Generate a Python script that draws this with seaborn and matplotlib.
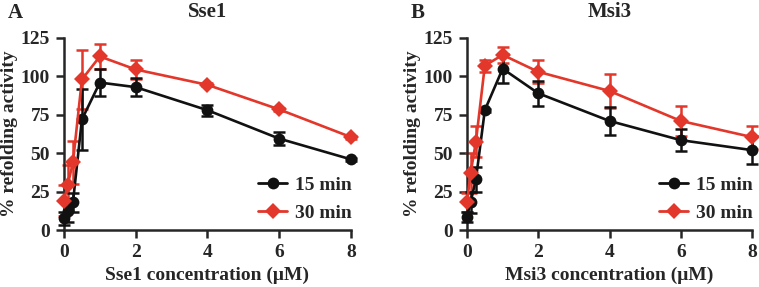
import matplotlib
matplotlib.use("Agg")
import matplotlib.pyplot as plt
import numpy as np
import pandas as pd
import seaborn as sns

conc = [0, 0.1, 0.25, 0.5, 1, 2, 4, 6, 8]

sse1_15 = [7.5, 12.5, 18, 72, 96, 93, 78, 59.5, 46]
sse1_15_err = [4, 7, 6, 20, 9, 6, 3.5, 4, 1]
sse1_30 = [19, 29, 44, 98, 113, 104.5, 94.5, 78.5, 60.5]
sse1_30_err = [10, 13, 14, 19, 8, 6, 1, 1, 1]

msi3_15 = [8.5, 18, 33, 78, 105, 89, 71, 58.5, 52]
msi3_15_err = [3, 7, 8, 1, 9.5, 8, 9, 7, 9]
msi3_30 = [18, 37, 57.5, 107, 114, 103, 90.5, 71, 60.5]
msi3_30_err = [6, 13, 10, 4, 5, 7.5, 11, 9.5, 7.5]

panels = [
    ("A", "Sse1", sse1_15, sse1_15_err, sse1_30, sse1_30_err),
    ("B", "Msi3", msi3_15, msi3_15_err, msi3_30, msi3_30_err),
]

sns.set_style("ticks")
plt.rcParams["font.family"] = ["Liberation Serif", "DejaVu Serif"]
plt.rcParams["font.weight"] = "bold"
plt.rcParams["axes.labelweight"] = "bold"

BLACK = "#111111"
RED = "#e2372a"

fig = plt.figure(figsize=(7.59, 2.87), dpi=100)
axes_pos = [[0.0843, 0.1986, 0.378, 0.669], [0.6153, 0.1986, 0.3755, 0.669]]

for pos, (letter, name, y15, e15, y30, e30) in zip(axes_pos, panels):
    ax = fig.add_axes(pos)
    df = pd.DataFrame({
        "conc": conc * 2,
        "activity": y15 + y30,
        "time": ["15 min"] * len(conc) + ["30 min"] * len(conc),
    })
    for yv, ev, col, z in [(y15, e15, BLACK, 3), (y30, e30, RED, 2)]:
        ax.errorbar(conc, yv, yerr=ev, fmt="none", ecolor=col, elinewidth=1.8,
                    capsize=4, capthick=1.8, zorder=z, clip_on=False)
    sns.lineplot(data=df, x="conc", y="activity", hue="time", style="time",
                 markers={"15 min": "o", "30 min": "D"}, dashes=False,
                 palette={"15 min": BLACK, "30 min": RED},
                 markersize=8.5, markeredgewidth=0, linewidth=1.9,
                 ax=ax, clip_on=False, zorder=3)
    ax.set_xlim(0, 8)
    ax.set_ylim(0, 125)
    ax.set_xticks([0, 2, 4, 6, 8])
    ax.set_yticks([0, 25, 50, 75, 100, 125])
    ax.set_xlabel(f"{name} concentration (\u03bcM)", fontsize=14, fontweight="bold", labelpad=4)
    ax.set_ylabel("% refolding activity", fontsize=14, fontweight="bold", labelpad=2)
    ax.set_title(name, fontsize=15, fontweight="bold", pad=15)
    ax.tick_params(labelsize=14, width=1.8, length=6, pad=4)
    for lab in ax.get_xticklabels() + ax.get_yticklabels():
        lab.set_fontweight("bold")
    for s in ["left", "bottom"]:
        ax.spines[s].set_linewidth(1.8)
    sns.despine(ax=ax)
    leg = ax.legend(loc="lower right", frameon=False, prop={"size": 14, "weight": "bold"},
                    handlelength=1.5, handletextpad=0.4, labelspacing=0.55,
                    borderaxespad=0.3, bbox_to_anchor=(1.05, -0.03))
    for h in leg.legend_handles:
        h.set_linewidth(2)
    fig.text(pos[0] - 0.074, 0.99, letter, fontsize=15, fontweight="bold", va="top")

fig.savefig("out.png", dpi=100)
